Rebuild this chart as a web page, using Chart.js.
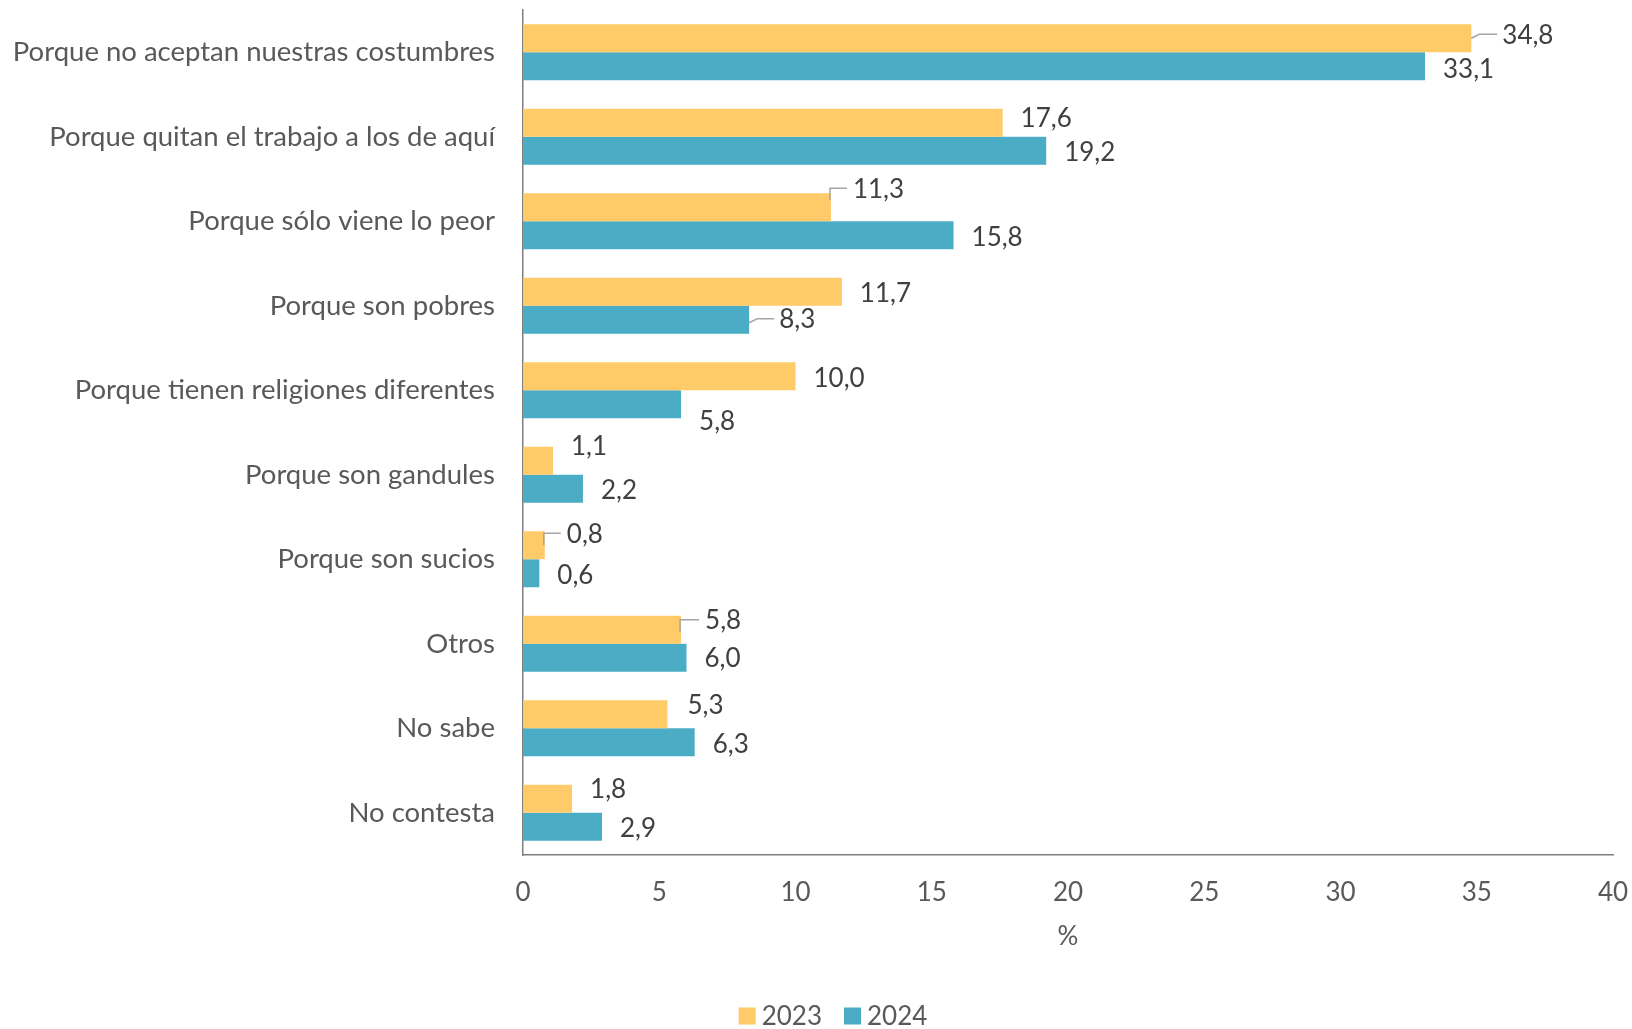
<!DOCTYPE html>
<html>
<head>
<meta charset="utf-8">
<script src="https://cdn.jsdelivr.net/npm/chart.js@4.4.1/dist/chart.umd.min.js"></script>
<style>
html,body{margin:0;padding:0;background:#fff;}
#wrap{width:1632px;height:1029px;position:relative;}
</style>
</head>
<body>
<div id="wrap"><canvas id="c" width="1632" height="1029"></canvas></div>
<script>
const categories = [
  "Porque no aceptan nuestras costumbres",
  "Porque quitan el trabajo a los de aquí",
  "Porque sólo viene lo peor",
  "Porque son pobres",
  "Porque tienen religiones diferentes",
  "Porque son gandules",
  "Porque son sucios",
  "Otros",
  "No sabe",
  "No contesta"
];
const values2023 = [34.8, 17.6, 11.3, 11.7, 10.0, 1.1, 0.8, 5.8, 5.3, 1.8];
const values2024 = [33.1, 19.2, 15.8, 8.3, 5.8, 2.2, 0.6, 6.0, 6.3, 2.9];
const seriesNames = ["2023", "2024"];
const xTicks = [0, 5, 10, 15, 20, 25, 30, 35, 40];

// label nudges [dx, dy, leader type] (Excel-moved labels; 1 = slanted, 2 = corner)
const nudge2023 = [[13,-4,1],[0,-5,0],[4,-19,2],[0,1,0],[0,1,0],[0,-15,0],[4,-12,2],[6,-10,2],[2,-10,0],[0,-10,0]];
const nudge2024 = [[0,2,0],[0,1,0],[0,1,0],[12,-1,1],[0,16,0],[0,1,0],[0,1,0],[0,0,0],[0,1,0],[0,1,0]];

const FONT = "Lato";
const FS_CAT = 27.5;
const FS = 26;

const labelPlugin = {
  id: 'valueLabels',
  afterDatasetsDraw(chart) {
    const ctx = chart.ctx;
    const nudges = [nudge2023, nudge2024];
    ctx.save();
    ctx.font = FS + "px " + FONT;
    ctx.textBaseline = 'middle';
    ctx.textAlign = 'left';
    chart.data.datasets.forEach((ds, di) => {
      const meta = chart.getDatasetMeta(di);
      meta.data.forEach((el, i) => {
        const v = ds.data[i];
        const txt = v.toFixed(1).replace('.', ',');
        const n = nudges[di][i];
        const xe = el.x;
        const xl = xe + 18 + n[0];
        const yl = el.y + n[1];
        if (n[2]) {
          ctx.strokeStyle = '#A6A6A6';
          ctx.lineWidth = 1.5;
          ctx.beginPath();
          if (n[2] === 1) {
            ctx.moveTo(xe, yl + 4);
            ctx.lineTo(xe + 8, yl);
            ctx.lineTo(xl - 5, yl);
          } else {
            ctx.moveTo(xe - 1, yl + 12);
            ctx.lineTo(xe - 1, yl);
            ctx.lineTo(xl - 6, yl);
          }
          ctx.stroke();
        }
        ctx.fillStyle = '#404040';
        ctx.fillText(txt, xl, yl + 1);
      });
    });
    ctx.restore();
  }
};

const legendPlugin = {
  id: 'customLegend',
  afterDraw(chart) {
    const ctx = chart.ctx;
    ctx.save();
    ctx.font = FS + "px " + FONT;
    ctx.textBaseline = 'middle';
    ctx.textAlign = 'left';
    const box = 17, gapBox = 6, gapItem = 22;
    const items = chart.data.datasets.map(d => ({t: d.label, c: d.backgroundColor, w: ctx.measureText(d.label).width}));
    let total = 0;
    items.forEach((it, i) => { total += box + gapBox + it.w + (i ? gapItem : 0); });
    const cx = chart.width / 2 + 17;
    let x = cx - total / 2;
    const y = chart.height - 13;
    items.forEach((it, i) => {
      if (i) x += gapItem;
      ctx.fillStyle = it.c;
      ctx.fillRect(x, y - box / 2, box, box);
      x += box + gapBox;
      ctx.fillStyle = '#595959';
      ctx.fillText(it.t, x, y + 1);
      x += it.w;
    });
    ctx.restore();
  }
};

new Chart(document.getElementById('c'), {
  type: 'bar',
  data: {
    labels: categories,
    datasets: [
      { label: seriesNames[0], data: values2023, backgroundColor: '#FFCA68', barPercentage: 1, categoryPercentage: 0.663 },
      { label: seriesNames[1], data: values2024, backgroundColor: '#4BACC6', barPercentage: 1, categoryPercentage: 0.663 }
    ]
  },
  options: {
    indexAxis: 'y',
    responsive: false,
    animation: false,
    devicePixelRatio: 1,
    layout: { padding: { top: 10, right: 19, left: 0, bottom: 77 } },
    plugins: {
      legend: { display: false },
      tooltip: { enabled: false }
    },
    scales: {
      x: {
        min: 0, max: 40,
        afterBuildTicks(scale) { scale.ticks = xTicks.map(v => ({ value: v })); },
        afterFit(scale) { scale.height = 97; scale.paddingLeft = 0; scale.paddingRight = 0; scale.paddingTop = 0; scale.paddingBottom = 0; },
        grid: { display: false, drawTicks: false },
        border: { display: true, color: '#7F7F7F', width: 1.5 },
        ticks: { color: '#595959', font: { family: FONT, size: FS }, padding: 22, maxRotation: 0, autoSkip: false },
        title: { display: true, text: '%', color: '#595959', font: { family: FONT, size: FS }, padding: { top: 0, bottom: 0 } }
      },
      y: {
        afterFit(scale) { scale.width = 523; scale.paddingLeft = 0; scale.paddingRight = 0; scale.paddingTop = 0; scale.paddingBottom = 0; },
        grid: { display: false, drawTicks: false },
        border: { display: true, color: '#7F7F7F', width: 1.5 },
        ticks: { color: '#595959', font: { family: FONT, size: FS_CAT }, padding: 28, autoSkip: false }
      }
    }
  },
  plugins: [labelPlugin, legendPlugin]
});
</script>
</body>
</html>
